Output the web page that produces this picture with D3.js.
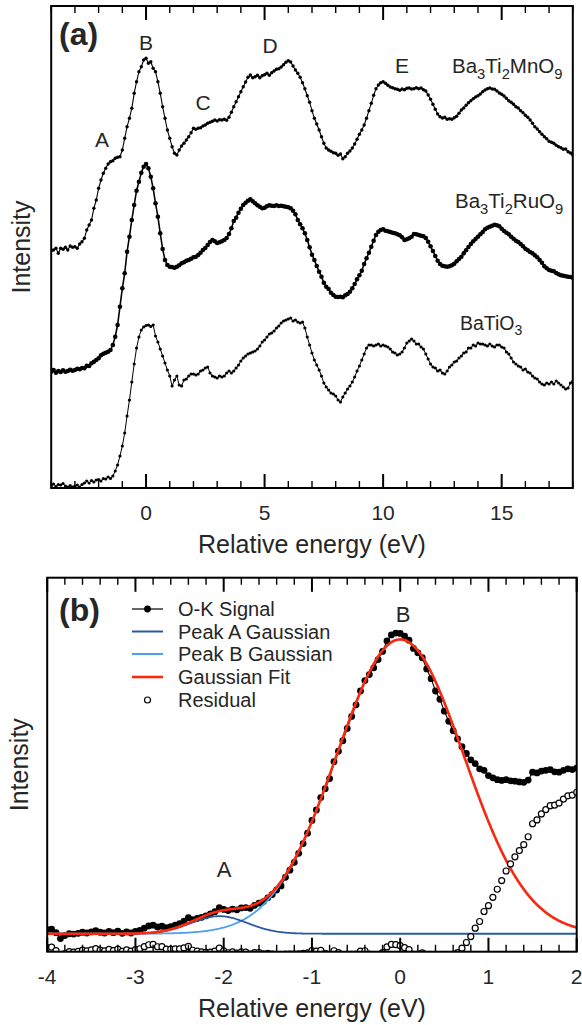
<!DOCTYPE html>
<html>
<head>
<meta charset="utf-8">
<script src="https://cdn.jsdelivr.net/npm/d3@7"></script>
<style>
  html, body { margin: 0; padding: 0; background: #fff; }
  svg { display: block; }
  text { font-family: "Liberation Sans", Arial, Helvetica, sans-serif; fill: #262626; }
</style>
</head>
<body>
<svg id="fig" width="582" height="1025"></svg>
<script>
// ---------- Panel (a): O-K edge spectra, sampled every 0.1 eV from -4 to 18 eV ----------
const energyStartA = -4, energyStepA = 0.1;

const mnValues = [
0.073,0.080,0.097,0.047,0.097,0.087,0.107,0.080,0.120,0.107,
0.113,0.097,0.140,0.163,0.197,0.280,0.330,0.380,0.497,0.580,
0.697,0.780,0.847,0.897,0.940,0.963,0.973,0.997,1.007,1.013,
1.080,1.197,1.313,1.397,1.497,1.647,1.763,1.863,1.913,1.980,
1.997,1.947,1.963,1.897,1.863,1.763,1.647,1.513,1.397,1.280,
1.197,1.113,1.047,1.030,1.080,1.120,1.147,1.180,1.213,1.253,
1.297,1.287,1.297,1.303,1.320,1.330,1.347,1.357,1.367,1.380,
1.370,1.383,1.380,1.387,1.377,1.407,1.457,1.513,1.563,1.613,
1.663,1.713,1.760,1.807,1.830,1.803,1.813,1.827,1.803,1.823,
1.833,1.847,1.827,1.853,1.870,1.887,1.893,1.910,1.933,1.957,
1.973,1.960,1.920,1.880,1.847,1.807,1.753,1.693,1.623,1.557,
1.473,1.397,1.340,1.280,1.213,1.147,1.100,1.080,1.067,1.053,
1.047,1.027,1.040,0.993,1.013,1.047,1.070,1.100,1.140,1.187,
1.237,1.280,1.330,1.397,1.473,1.547,1.627,1.693,1.730,1.753,
1.763,1.747,1.727,1.710,1.703,1.693,1.687,1.677,1.690,1.683,
1.697,1.700,1.690,1.693,1.703,1.693,1.700,1.683,1.670,1.630,
1.587,1.537,1.487,1.440,1.413,1.400,1.407,1.387,1.393,1.387,
1.403,1.417,1.447,1.480,1.500,1.527,1.553,1.573,1.593,1.610,
1.623,1.640,1.663,1.680,1.693,1.700,1.690,1.687,1.670,1.650,
1.637,1.620,1.597,1.573,1.557,1.537,1.513,1.500,1.473,1.453,
1.427,1.407,1.380,1.347,1.313,1.290,1.263,1.237,1.213,1.193,
1.167,1.157,1.147,1.127,1.113,1.103,1.087,1.090,1.063,1.050,
1.030];

const ruValues = [
0.063,0.080,0.053,0.070,0.060,0.077,0.063,0.070,0.083,0.073,
0.080,0.093,0.087,0.100,0.097,0.123,0.120,0.147,0.163,0.180,
0.197,0.227,0.243,0.253,0.263,0.280,0.330,0.413,0.530,0.713,
0.897,1.047,1.263,1.413,1.580,1.730,1.873,1.963,2.053,2.113,
2.140,2.097,2.013,1.897,1.747,1.613,1.447,1.290,1.180,1.130,
1.113,1.110,1.103,1.113,1.127,1.147,1.157,1.173,1.180,1.193,
1.207,1.213,1.230,1.253,1.280,1.300,1.330,1.360,1.380,1.367,
1.350,1.357,1.367,1.380,1.400,1.440,1.497,1.570,1.603,1.653,
1.693,1.730,1.753,1.773,1.787,1.767,1.747,1.727,1.713,1.697,
1.703,1.717,1.727,1.723,1.720,1.727,1.720,1.723,1.717,1.713,
1.707,1.697,1.673,1.637,1.580,1.537,1.497,1.447,1.380,1.307,
1.233,1.180,1.120,1.063,1.013,0.953,0.913,0.890,0.853,0.830,
0.813,0.810,0.813,0.807,0.827,0.840,0.863,0.897,0.940,0.987,
1.027,1.073,1.140,1.197,1.253,1.313,1.373,1.430,1.463,1.480,
1.487,1.473,1.467,1.460,1.453,1.447,1.437,1.427,1.407,1.380,
1.387,1.397,1.413,1.440,1.437,1.430,1.423,1.417,1.400,1.363,
1.317,1.270,1.220,1.173,1.140,1.123,1.117,1.113,1.117,1.127,
1.143,1.167,1.190,1.213,1.247,1.277,1.310,1.340,1.367,1.390,
1.413,1.437,1.460,1.487,1.503,1.513,1.523,1.533,1.527,1.517,
1.493,1.470,1.453,1.437,1.413,1.393,1.373,1.360,1.340,1.317,
1.293,1.277,1.260,1.247,1.227,1.207,1.180,1.153,1.117,1.097,
1.080,1.073,1.067,1.050,1.037,1.027,1.023,1.017,1.013,1.010,
1.003];

const btoValues = [
0.020,0.040,0.015,0.035,0.030,0.045,0.020,0.010,0.025,0.010,
0.020,0.030,0.010,0.035,0.050,0.070,0.050,0.075,0.060,0.080,
0.085,0.070,0.095,0.090,0.110,0.095,0.120,0.170,0.230,0.320,
0.420,0.550,0.720,0.880,1.060,1.240,1.400,1.510,1.580,1.610,
1.625,1.630,1.615,1.630,1.520,1.460,1.390,1.320,1.250,1.180,
1.120,1.020,1.080,1.120,1.030,1.020,1.080,1.090,1.120,1.140,
1.140,1.130,1.140,1.170,1.180,1.200,1.210,1.150,1.120,1.110,
1.100,1.120,1.110,1.120,1.150,1.170,1.150,1.170,1.200,1.230,
1.270,1.300,1.320,1.340,1.350,1.360,1.370,1.390,1.420,1.460,
1.480,1.510,1.540,1.550,1.570,1.600,1.620,1.650,1.670,1.680,
1.690,1.700,1.670,1.680,1.660,1.650,1.660,1.600,1.510,1.430,
1.350,1.280,1.230,1.180,1.120,1.050,1.010,0.980,0.950,0.940,
0.920,0.880,0.860,0.910,0.950,0.990,1.020,1.060,1.110,1.170,
1.220,1.280,1.340,1.400,1.430,1.430,1.420,1.430,1.440,1.420,
1.430,1.420,1.410,1.390,1.360,1.350,1.330,1.340,1.360,1.400,
1.450,1.470,1.490,1.470,1.440,1.440,1.410,1.390,1.340,1.290,
1.240,1.210,1.200,1.170,1.180,1.150,1.140,1.170,1.210,1.230,
1.260,1.270,1.300,1.320,1.350,1.360,1.400,1.400,1.430,1.420,
1.450,1.440,1.440,1.430,1.420,1.440,1.420,1.410,1.430,1.430,
1.410,1.400,1.360,1.340,1.300,1.260,1.240,1.220,1.210,1.180,
1.190,1.160,1.150,1.120,1.100,1.090,1.060,1.040,1.030,1.050,
1.040,1.060,1.040,1.070,1.050,1.030,1.010,0.990,1.000,1.050,
1.070];

// vertical offsets used to stack the spectra
const seriesNames   = ["Ba3Ti2MnO9", "Ba3Ti2RuO9", "BaTiO3"];
const seriesOffsets = [2.3, 1.1, 0.0];
const peakLabelsA   = ["A", "B", "C", "D", "E"];
const ticksMajorA   = [0, 5, 10, 15];
const ticksMinorA   = [-4, -3, -2, -1, 1, 2, 3, 4, 6, 7, 8, 9, 11, 12, 13, 14, 16, 17, 18];

// ---------- Panel (b): O-K signal near the edge, every 0.05 eV from -4 to 2 eV ----------
const energyStartB = -4, energyStepB = 0.05;
const okSignal = [
0.059,0.060,0.051,0.035,0.043,0.048,0.047,0.049,0.052,0.050,
0.053,0.056,0.052,0.050,0.054,0.051,0.055,0.049,0.053,0.050,
0.054,0.057,0.063,0.069,0.071,0.066,0.068,0.064,0.067,0.071,
0.075,0.082,0.091,0.086,0.089,0.092,0.096,0.101,0.107,0.118,
0.113,0.110,0.114,0.112,0.117,0.118,0.116,0.124,0.130,0.134,
0.144,0.153,0.165,0.176,0.199,0.218,0.239,0.263,0.289,0.317,
0.351,0.379,0.412,0.436,0.463,0.508,0.536,0.564,0.597,0.629,
0.660,0.697,0.725,0.741,0.759,0.781,0.803,0.831,0.847,0.852,
0.851,0.844,0.833,0.811,0.799,0.786,0.756,0.730,0.697,0.675,
0.643,0.616,0.591,0.569,0.548,0.530,0.513,0.503,0.489,0.485,
0.471,0.465,0.460,0.458,0.460,0.457,0.456,0.454,0.453,0.459,
0.480,0.478,0.483,0.485,0.487,0.481,0.480,0.485,0.489,0.487,
0.491];

// two-Gaussian fit parameters: peak A, peak B
const fitCenters    = [-2.05, 0.0];
const fitSigmas     = [0.32, 0.72];
const fitAmplitudes = [0.047, 0.787];
const fitBackground = 0.048;
const ticksMajorB   = [-4, -3, -2, -1, 0, 1, 2];
const ticksMinorB   = [-3.8, -3.6, -3.4, -3.2, -2.8, -2.6, -2.4, -2.2, -1.8, -1.6, -1.4, -1.2,
                       -0.8, -0.6, -0.4, -0.2, 0.2, 0.4, 0.6, 0.8, 1.2, 1.4, 1.6, 1.8];
const legendLabels  = ["O-K Signal", "Peak A Gaussian", "Peak B Gaussian", "Gaussian Fit", "Residual"];

const colors = { peakA: "#2b5aa3", peakB: "#4d9ff0", fit: "#fb2a0c" };

// ---------------------------------------------------------------------------------
const svg = d3.select("#fig");

function frame(g, box) {
  g.append("rect").attr("x", box.left).attr("y", box.top)
    .attr("width", box.right - box.left).attr("height", box.bottom - box.top)
    .attr("fill", "none").attr("stroke", "#000").attr("stroke-width", 2);
}

// path for inward tick marks on the bottom and top edges of a frame
function tickPath(x, box, vals, len) {
  const p = d3.path();
  vals.forEach(v => {
    const px = x(v);
    p.moveTo(px, box.bottom); p.lineTo(px, box.bottom - len);
    p.moveTo(px, box.top);    p.lineTo(px, box.top + len);
  });
  return p.toString();
}

function tickLabels(g, x, vals, baseline, fontSize) {
  g.append("g").selectAll("text").data(vals).join("text")
    .attr("x", d => x(d)).attr("y", baseline).attr("text-anchor", "middle")
    .style("font-size", fontSize + "px").text(d => String(d));
}

function subscripted(g, x, y, parts, size) {
  // parts: [text, isSubscript]
  const t = g.append("text").attr("x", x).attr("y", y).style("font-size", size + "px");
  parts.forEach(([s, sub], i) => {
    const ts = t.append("tspan").text(s);
    if (sub) ts.attr("dy", size * 0.28).style("font-size", (size * 0.72) + "px");
    else if (i > 0) ts.attr("dy", -size * 0.28);
  });
  return t;
}

// ================= Panel (a) =================
const boxA = { left: 51.2, right: 572.8, top: 6, bottom: 488 };
const xA = d3.scaleLinear().domain([-4, 18]).range([boxA.left, boxA.right]);
const yA = d3.scaleLinear().domain([0, 4.82]).range([488, 6]);
const gA = svg.append("g");

const clipA = svg.append("defs").append("clipPath").attr("id", "clipA");
clipA.append("rect").attr("x", boxA.left).attr("y", boxA.top)
  .attr("width", boxA.right - boxA.left).attr("height", boxA.bottom - boxA.top);

const spectra = [mnValues, ruValues, btoValues].map((vals, k) => ({
  name: seriesNames[k],
  offset: seriesOffsets[k],
  points: vals.map((v, i) => ({ e: +(energyStartA + i * energyStepA).toFixed(2), v }))
}));
const dotStyle = [{ r: 1.7, w: 1.1 }, { r: 2.3, w: 1.6 }, { r: 1.6, w: 1.0 }];

const plotA = gA.append("g").attr("clip-path", "url(#clipA)");
spectra.forEach((s, k) => {
  const line = d3.line().x(d => xA(d.e)).y(d => yA(d.v + s.offset));
  plotA.append("path").datum(s.points).attr("d", line)
    .attr("fill", "none").attr("stroke", "#000").attr("stroke-width", dotStyle[k].w);
  plotA.append("g").selectAll("circle").data(s.points).join("circle")
    .attr("cx", d => xA(d.e)).attr("cy", d => yA(d.v + s.offset)).attr("r", dotStyle[k].r).attr("fill", "#000");
});

frame(gA, boxA);
tickLabels(gA, xA, ticksMajorA, 520, 21);

// feature letters
const peakPosA = [[102, 147], [146, 50], [203, 110], [270, 53], [402, 73]];
peakLabelsA.forEach((t, i) => {
  gA.append("text").attr("x", peakPosA[i][0]).attr("y", peakPosA[i][1])
    .attr("text-anchor", "middle").style("font-size", "21px").text(t);
});

subscripted(gA, 452, 73, [["Ba", 0], ["3", 1], ["Ti", 0], ["2", 1], ["MnO", 0], ["9", 1]], 20.5);
subscripted(gA, 455, 208, [["Ba", 0], ["3", 1], ["Ti", 0], ["2", 1], ["RuO", 0], ["9", 1]], 20.5);
subscripted(gA, 460, 330, [["BaTiO", 0], ["3", 1]], 19.5);

gA.append("text").attr("x", 59).attr("y", 45).style("font-size", "32px").style("font-weight", "bold").text("(a)");
gA.append("text").attr("x", (boxA.left + boxA.right) / 2).attr("y", 553)
  .attr("text-anchor", "middle").style("font-size", "25px").text("Relative energy (eV)");
gA.append("text").attr("transform", `translate(30,${(boxA.top + boxA.bottom) / 2}) rotate(-90)`)
  .attr("text-anchor", "middle").style("font-size", "25px").text("Intensity");

// ================= Panel (b) =================
const boxB = { left: 47.2, right: 576.7, top: 577.7, bottom: 951.7 };
const xB = d3.scaleLinear().domain([-4, 2]).range([boxB.left, boxB.right]);
const yB = d3.scaleLinear().domain([0, 1]).range([951.7, 577.7]);
const gB = svg.append("g");

const clipB = svg.select("defs").append("clipPath").attr("id", "clipB");
clipB.append("rect").attr("x", boxB.left).attr("y", boxB.top)
  .attr("width", boxB.right - boxB.left).attr("height", boxB.bottom - boxB.top);

const gaussian = (x, k) => fitAmplitudes[k] * Math.exp(-((x - fitCenters[k]) ** 2) / (2 * fitSigmas[k] ** 2));
const fitAt = x => fitBackground + gaussian(x, 0) + gaussian(x, 1);

const signalPts = okSignal.map((v, i) => ({ e: +(energyStartB + i * energyStepB).toFixed(2), v }));
const residualPts = signalPts.map(d => ({ e: d.e, v: d.v - fitAt(d.e) }));
const grid = d3.range(0, 601).map(i => -4 + i * 0.01);

const plotB = gB.append("g").attr("clip-path", "url(#clipB)");
const lineB = d3.line().x(d => xB(d.e)).y(d => yB(d.v));

// signal
plotB.append("path").datum(signalPts).attr("d", lineB)
  .attr("fill", "none").attr("stroke", "#000").attr("stroke-width", 1.1);
plotB.append("g").selectAll("circle").data(signalPts).join("circle")
  .attr("cx", d => xB(d.e)).attr("cy", d => yB(d.v)).attr("r", 3.4).attr("fill", "#000");

// component Gaussians and total fit
plotB.append("path").datum(grid.map(e => ({ e, v: fitBackground + gaussian(e, 1) }))).attr("d", lineB)
  .attr("fill", "none").attr("stroke", colors.peakB).attr("stroke-width", 1.8);
plotB.append("path").datum(grid.map(e => ({ e, v: fitBackground + gaussian(e, 0) }))).attr("d", lineB)
  .attr("fill", "none").attr("stroke", colors.peakA).attr("stroke-width", 1.8);
plotB.append("path").datum(grid.map(e => ({ e, v: fitAt(e) }))).attr("d", lineB)
  .attr("fill", "none").attr("stroke", colors.fit).attr("stroke-width", 2.6);

// residual
plotB.append("g").selectAll("circle").data(residualPts).join("circle")
  .attr("cx", d => xB(d.e)).attr("cy", d => yB(d.v)).attr("r", 3)
  .attr("fill", "#fff").attr("stroke", "#000").attr("stroke-width", 1.2);

frame(gB, boxB);
tickLabels(gB, xB, ticksMajorB, 984, 21);

gB.append("text").attr("x", 224).attr("y", 877).attr("text-anchor", "middle").style("font-size", "22px").text("A");
gB.append("text").attr("x", 403).attr("y", 622).attr("text-anchor", "middle").style("font-size", "22px").text("B");

// legend
const legY = [609, 631.5, 654, 677, 700];
const lg = gB.append("g");
legendLabels.forEach((t, i) => {
  lg.append("text").attr("x", 178).attr("y", legY[i] + 7).style("font-size", "20px").text(t);
});
lg.append("line").attr("x1", 132).attr("x2", 163).attr("y1", legY[0]).attr("y2", legY[0]).attr("stroke", "#000").attr("stroke-width", 1.2);
lg.append("circle").attr("cx", 147.5).attr("cy", legY[0]).attr("r", 3.4).attr("fill", "#000");
[[colors.peakA, 1], [colors.peakB, 2], [colors.fit, 3]].forEach(([c, i]) => {
  lg.append("line").attr("x1", 132).attr("x2", 163).attr("y1", legY[i]).attr("y2", legY[i])
    .attr("stroke", c).attr("stroke-width", i === 3 ? 2.6 : 2);
});
lg.append("circle").attr("cx", 147.5).attr("cy", legY[4]).attr("r", 3)
  .attr("fill", "#fff").attr("stroke", "#000").attr("stroke-width", 1.2);

gB.append("text").attr("x", 59).attr("y", 621).style("font-size", "32px").style("font-weight", "bold").text("(b)");
gB.append("text").attr("x", (boxB.left + boxB.right) / 2).attr("y", 1017)
  .attr("text-anchor", "middle").style("font-size", "25px").text("Relative energy (eV)");
gB.append("text").attr("transform", `translate(28,${(boxB.top + boxB.bottom) / 2}) rotate(-90)`)
  .attr("text-anchor", "middle").style("font-size", "25px").text("Intensity");

// ---------- tick marks, drawn last so they sit on top of everything ----------
const tickLayer = svg.append("g").attr("class", "ticks");
[[xA, boxA, ticksMinorA, ticksMajorA], [xB, boxB, ticksMinorB, ticksMajorB]].forEach(([x, box, minors, majors]) => {
  tickLayer.append("path").attr("d", tickPath(x, box, minors, 7))
    .attr("fill", "none").attr("stroke", "#000").attr("stroke-width", 1.4);
  tickLayer.append("path").attr("d", tickPath(x, box, majors, 14))
    .attr("fill", "none").attr("stroke", "#000").attr("stroke-width", 2);
});
</script>
</body>
</html>
